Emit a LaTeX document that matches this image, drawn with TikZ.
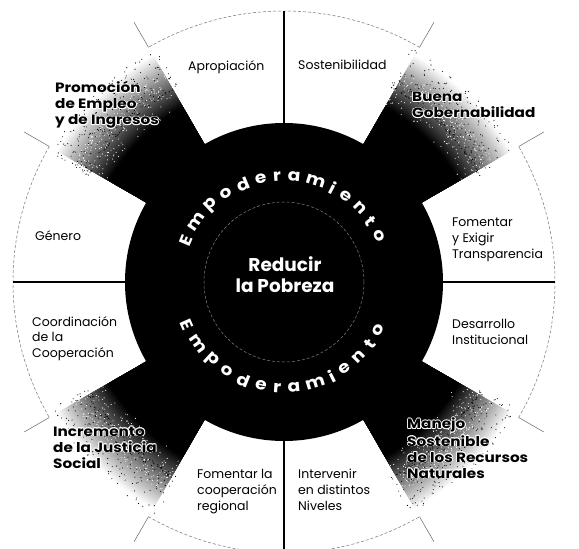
\documentclass[tikz,border=0pt]{standalone}
\usepackage{fontspec}
\setmainfont{Poppins}
\newfontfamily\heavyfont{Poppins}[FakeStretch=1.13]
\usetikzlibrary{calc}

% white halo around dark lettering
\newcommand\hcopy[3]{\rlap{\hspace*{#1}\raisebox{#2}{\textcolor{white}{#3}}}}
\newcommand\halo[1]{\hcopy{-.9pt}{0pt}{#1}\hcopy{.9pt}{0pt}{#1}\hcopy{0pt}{.9pt}{#1}\hcopy{0pt}{-.9pt}{#1}%
  \hcopy{-.65pt}{-.65pt}{#1}\hcopy{.65pt}{.65pt}{#1}\hcopy{-.65pt}{.65pt}{#1}\hcopy{.65pt}{-.65pt}{#1}#1}

\tikzset{
  lab/.style={anchor=base west, align=left, inner sep=0pt, text=black,
    font=\fontsize{12.5}{16}\selectfont},
  boldlab/.style={anchor=base west, align=left, inner sep=0pt, text=black,
    font=\heavyfont\fontsize{13.5}{16}\selectfont\bfseries},
  divider/.style={line width=1.1pt, black},
  rim/.style={line width=0.5pt, black!55, densely dashed},
  letter/.style={inner sep=0pt, text=white, font=\heavyfont\fontsize{16.5}{16.5}\selectfont\bfseries},
}

\begin{document}
\begin{tikzpicture}[x=1pt, y=1pt]
\useasboundingbox[fill=white] (-284,-267) rectangle (295,282);

% fading black wedges
\foreach \a in {30,120,210,300} {
  \foreach \k in {0,...,30} {
    \pgfmathsetmacro\r{262-2*\k}
    \pgfmathsetmacro\c{min(100,100*(\k+0.5)/30)}
    \fill[black!\c] (0,0) -- (\a:\r) arc[start angle=\a, end angle=\a+30, radius=\r] -- cycle;
  }
}
% spray grain
\pgfmathsetseed{42}
\foreach \a in {30,120,210,300} {
  \foreach \n in {1,...,260} {
    \pgfmathsetmacro\rr{222+44*rnd^2}
    \pgfmathsetmacro\tt{\a-1.5+33*rnd}
    \fill[black] (\tt:\rr) circle[radius=0.55];
  }
  \foreach \n in {1,...,220} {
    \pgfmathsetmacro\rr{200+42*rnd^0.5}
    \pgfmathsetmacro\tt{\a+30*rnd}
    \fill[white] (\tt:\rr) circle[radius=0.55];
  }
}

% central disc
\node[circle, fill=black, minimum size=318pt, inner sep=0pt] (core) at (0,0) {};
\draw[line width=0.5pt, black!50, densely dashed] (0,0) circle[radius=80];

% outer rim of the light sectors
\draw[rim] (-30:271) arc[start angle=-30, end angle=30, radius=271];
\draw[rim] (60:271) arc[start angle=60, end angle=120, radius=271];
\draw[rim] (150:271) arc[start angle=150, end angle=210, radius=271];
\draw[rim] (240:271) arc[start angle=240, end angle=300, radius=271];
\foreach \a in {30,60,120,150,210,240,300,330}
  \draw[line width=0.5pt, black!60] (\a:271) -- (\a:300);

% straight dividers
\foreach \a in {0,90,180,270}
  \draw[divider] (\a:159) -- (\a:271);

% ring lettering, spaced by glyph width along the arc
\foreach \ch/\f [count=\i from 0] in {E/0,m/.0886,p/.1795,o/.2581,d/.3366,e/.4143,r/.4827,
    a/.5532,m/.6441,i/.7208,e/.7842,n/.8611,t/.9308,o/1} {
  \pgfmathsetmacro\t{157-131*\f}
  \node[letter, rotate=\t-90] (top\i) at (\t:106) {\ch};
  \pgfmathsetmacro\b{-156+129*\f}
  \node[letter, rotate=\b+90] (bot\i) at (\b:106) {\ch};
}

% centre
\node[anchor=base, inner sep=0pt, text=white, align=center,
  font=\fontsize{18.5}{21}\selectfont\bfseries] (goal) at (1,-11) {Reducir\\la Pobreza};

% sector labels (anchored on the last line's baseline)
\node[lab] (apro) at (-96,211) {Apropiación};
\node[lab] (sost) at (14,212) {Sostenibilidad};
\node[boldlab] (gob) at (128,164) {\halo{Buena}\\\halo{Gobernabilidad}};
\node[lab] (transp) at (168,23) {Fomentar\\y Exigir\\Transparencia};
\node[lab] (inst) at (168,-63) {Desarrollo\\Institucional};
\node[boldlab] (manejo) at (123,-196) {\halo{Manejo}\\\halo{Sostenible}\\\halo{de los Recursos}\\\halo{Naturales}};
\node[lab] (niveles) at (14,-228) {Intervenir\\en distintos\\Niveles};
\node[lab] (regional) at (-87,-228) {Fomentar la\\cooperación\\regional};
\node[boldlab] (justicia) at (-231,-186) {\halo{Incremento}\\\halo{de la Justicia}\\\halo{Social}};
\node[lab] (coord) at (-252,-76) {Coordinación\\de la\\Cooperación};
\node[lab] (genero) at (-249,41) {Género};
\node[boldlab] (empleo) at (-229,157) {\halo{Promoción}\\\halo{de Empleo}\\\halo{y de Ingresos}};
\end{tikzpicture}
\end{document}
